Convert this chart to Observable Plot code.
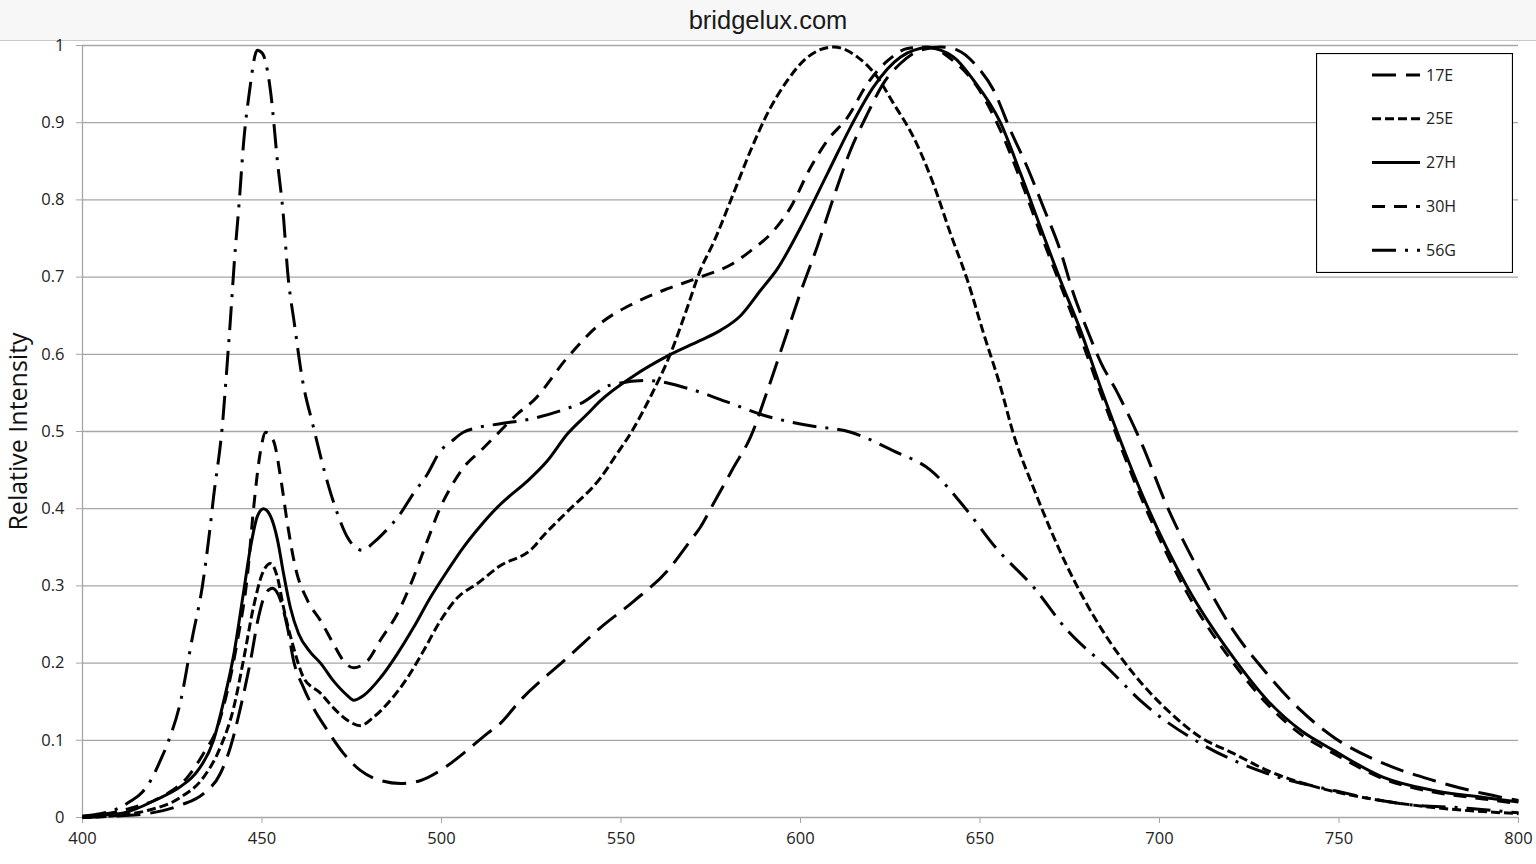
<!DOCTYPE html>
<html>
<head>
<meta charset="utf-8">
<script src="https://cdn.jsdelivr.net/npm/d3@7"></script>
<script src="https://cdn.jsdelivr.net/npm/@observablehq/plot@0.6"></script>
<style>
  html, body { margin: 0; padding: 0; background: #fff; width: 1536px; height: 864px; overflow: hidden; }
  #header { height: 40px; background: #f7f7f7; border-bottom: 1px solid #c8c8c8; text-align: center;
            font-family: "Liberation Sans", Arial, sans-serif; font-size: 25.5px; line-height: 40px; color: #1a1a1a; }
  #chart { position: relative; }
  #legend { position: absolute; left: 1316px; top: 53px; }
</style>
</head>
<body>
<div id="header">bridgelux.com</div>
<div id="chart"></div>
<script>
// ---- Data ----
const seriesNames = ["17E", "25E", "27H", "30H", "56G"];
const xTicks = [400, 450, 500, 550, 600, 650, 700, 750, 800];
const yTicks = [0, 0.1, 0.2, 0.3, 0.4, 0.5, 0.6, 0.7, 0.8, 0.9, 1];

const nm17E = [400, 410, 418, 427.3, 433.7, 438.4, 441.2, 444, 446.8, 449, 451, 452.9, 454.6, 457.1, 458.8, 461.6, 464.3, 468.2, 472.7, 477.4, 483, 488.6, 494.2, 499.7, 506.1, 512.8, 516.4, 522, 535.1, 544.3, 553.5, 563, 569.4, 572.1, 575.8, 581.3, 586.1, 590.8, 595.3, 600, 604.7, 609.2, 613.9, 618.7, 623.1, 627.9, 633.4, 639, 643.7, 649.3, 653.8, 658.5, 663.2, 667.7, 672.4, 676, 680, 683.6, 688.3, 694.7, 702.2, 711.4, 720.6, 730, 739.3, 748.5, 762.4, 776.3, 790.3, 800];
const val17E = [0, 0.002, 0.005, 0.016, 0.031, 0.057, 0.091, 0.142, 0.203, 0.259, 0.29, 0.297, 0.288, 0.246, 0.203, 0.168, 0.142, 0.113, 0.083, 0.061, 0.048, 0.044, 0.048, 0.061, 0.083, 0.109, 0.122, 0.152, 0.207, 0.246, 0.28, 0.32, 0.359, 0.376, 0.407, 0.453, 0.493, 0.553, 0.615, 0.68, 0.74, 0.803, 0.864, 0.912, 0.951, 0.977, 0.994, 0.998, 0.994, 0.972, 0.942, 0.89, 0.842, 0.79, 0.734, 0.679, 0.63, 0.59, 0.55, 0.488, 0.402, 0.316, 0.242, 0.186, 0.139, 0.104, 0.07, 0.048, 0.031, 0.022];

const nm25E = [400, 410, 418.1, 427.3, 433.7, 438.4, 442.1, 444.8, 447.6, 450.1, 452.4, 454.3, 456, 458.8, 461.6, 466.3, 469.9, 473.8, 477.4, 481.1, 485.8, 490.5, 495, 499.7, 504.5, 510, 516, 525.6, 528, 535, 544.3, 549, 553, 558.2, 563.8, 568.5, 572.1, 575.8, 581.3, 586.1, 590.8, 596.4, 602, 609.2, 615.9, 621.4, 625.9, 631.5, 637, 641.8, 646.5, 651, 655.7, 659.3, 664.9, 674.4, 683.6, 692.8, 702.2, 711.4, 720.6, 730, 744, 757.9, 776.3, 800];
const val25E = [0, 0.003, 0.009, 0.026, 0.052, 0.091, 0.142, 0.203, 0.272, 0.316, 0.329, 0.311, 0.272, 0.22, 0.181, 0.161, 0.142, 0.126, 0.119, 0.13, 0.152, 0.181, 0.216, 0.255, 0.285, 0.303, 0.325, 0.35, 0.363, 0.396, 0.44, 0.472, 0.5, 0.545, 0.601, 0.661, 0.709, 0.745, 0.808, 0.864, 0.912, 0.955, 0.985, 0.998, 0.985, 0.959, 0.925, 0.881, 0.821, 0.756, 0.696, 0.627, 0.558, 0.497, 0.427, 0.324, 0.246, 0.186, 0.139, 0.104, 0.083, 0.061, 0.039, 0.025, 0.013, 0.005];

const nm27H = [400, 411.4, 420.9, 427.3, 432, 436.5, 439.3, 442.1, 444.8, 446.8, 448.7, 450.4, 452.4, 454.3, 456, 457.9, 460.2, 463.5, 466.3, 469.9, 473.8, 475.5, 478.3, 483, 487.7, 492.2, 496.9, 501.7, 506.1, 510.9, 515.6, 518.4, 524, 529.5, 535.1, 540.7, 544.3, 553.5, 563, 572.1, 577.7, 583.3, 588.9, 593.6, 600, 607.5, 613.9, 620.3, 627.9, 635.4, 642.6, 648.2, 655.7, 661.3, 666.9, 672.4, 678, 683.6, 696.7, 707.8, 720.6, 730, 739.3, 748.5, 762.4, 776.3, 790.3, 800];
const val27H = [0.001, 0.006, 0.024, 0.04, 0.06, 0.1, 0.15, 0.21, 0.29, 0.35, 0.39, 0.4, 0.39, 0.36, 0.316, 0.272, 0.238, 0.214, 0.2, 0.177, 0.158, 0.152, 0.158, 0.181, 0.212, 0.246, 0.285, 0.32, 0.35, 0.378, 0.402, 0.414, 0.436, 0.462, 0.497, 0.523, 0.54, 0.572, 0.598, 0.618, 0.631, 0.65, 0.683, 0.711, 0.764, 0.834, 0.894, 0.946, 0.985, 0.997, 0.985, 0.955, 0.9, 0.834, 0.764, 0.696, 0.631, 0.557, 0.402, 0.298, 0.207, 0.152, 0.113, 0.087, 0.052, 0.035, 0.026, 0.02];

const nm30H = [400, 413.4, 422.6, 429.2, 433.7, 437.6, 440.4, 443.2, 446, 447.6, 449.6, 451, 453.2, 455.2, 457.1, 459.3, 462.7, 466.3, 469.9, 472.7, 475.5, 479.4, 483, 487.7, 492.2, 496.1, 499.7, 502.5, 506.1, 510.9, 515.6, 521.2, 525.6, 535.1, 544.3, 553.5, 563, 572.1, 581.3, 586.1, 592.5, 597.2, 602.8, 607.5, 613.1, 618.7, 624.2, 629.8, 635.4, 642.6, 649.3, 655.7, 661.3, 666.9, 672.4, 678, 683.6, 696.7, 707.8, 720.6, 730, 739.3, 748.5, 762.4, 776.3, 790.3, 800];
const val30H = [0.001, 0.012, 0.028, 0.052, 0.083, 0.117, 0.165, 0.23, 0.316, 0.398, 0.475, 0.499, 0.488, 0.44, 0.38, 0.324, 0.281, 0.255, 0.225, 0.203, 0.194, 0.203, 0.23, 0.264, 0.311, 0.359, 0.402, 0.427, 0.453, 0.475, 0.497, 0.523, 0.54, 0.596, 0.64, 0.666, 0.685, 0.7, 0.718, 0.734, 0.76, 0.79, 0.842, 0.877, 0.907, 0.951, 0.98, 0.996, 0.998, 0.98, 0.946, 0.89, 0.826, 0.756, 0.69, 0.622, 0.55, 0.395, 0.29, 0.2, 0.147, 0.108, 0.083, 0.05, 0.033, 0.024, 0.018];

const nm56G = [400, 405, 410, 413, 416.7, 419, 421.7, 423.7, 427.3, 430.6, 433.4, 435.4, 436.5, 439, 440.1, 441.2, 442.3, 443.7, 444.8, 446.5, 448.7, 450.1, 452.4, 454.3, 456, 457.1, 459.1, 461.3, 464.1, 468.5, 471.3, 473.8, 478, 480.8, 483.8, 488.6, 492.2, 496.1, 499.7, 502.5, 506.1, 510, 516.4, 525.6, 535.1, 538.7, 547, 557.4, 568.5, 579.7, 589.7, 602, 614, 625.9, 636.2, 646, 654.3, 665, 674.4, 685.5, 695.5, 711.4, 730, 748.5, 767, 785.8, 800];
const val56G = [0.002, 0.005, 0.012, 0.02, 0.033, 0.048, 0.074, 0.096, 0.15, 0.233, 0.3, 0.37, 0.415, 0.51, 0.575, 0.645, 0.72, 0.8, 0.87, 0.94, 0.994, 0.99, 0.94, 0.85, 0.777, 0.709, 0.637, 0.566, 0.51, 0.43, 0.39, 0.363, 0.346, 0.355, 0.368, 0.394, 0.42, 0.445, 0.475, 0.486, 0.499, 0.505, 0.51, 0.517, 0.53, 0.536, 0.56, 0.566, 0.556, 0.538, 0.521, 0.508, 0.499, 0.475, 0.45, 0.4, 0.35, 0.298, 0.242, 0.194, 0.148, 0.096, 0.057, 0.035, 0.018, 0.012, 0.006];

// ---- Build tables ----
const nmBySeries = {"17E": nm17E, "25E": nm25E, "27H": nm27H, "30H": nm30H, "56G": nm56G};
const valBySeries = {"17E": val17E, "25E": val25E, "27H": val27H, "30H": val30H, "56G": val56G};
const dashes = {"17E": "24,10", "25E": "9,4", "27H": null, "30H": "13,9", "56G": "24,9,3,9"};
const tables = {};
for (const s of seriesNames) tables[s] = nmBySeries[s].map((x, i) => ({nm: x, v: valBySeries[s][i]}));

const lineMarks = seriesNames.map(s => Plot.line(tables[s], {
  x: "nm", y: "v", stroke: "#000", strokeWidth: 3, curve: "monotone-x",
  strokeDasharray: dashes[s] || undefined, strokeLinecap: "butt"
}));

const fmt = d => String(+d.toFixed(1));

const chart = Plot.plot({
  width: 1536, height: 823,
  marginTop: 4, marginBottom: 47, marginLeft: 82, marginRight: 18,
  x: {domain: [400, 800]},
  y: {domain: [0, 1]},
  style: {fontFamily: "'Open Sans', sans-serif", fontSize: "16.5px", color: "#222", background: "#fff", overflow: "visible"},
  marks: [
    Plot.gridY(yTicks, {stroke: "#a6a6a6", strokeOpacity: 1, strokeWidth: 1.3}),
    Plot.ruleX([400], {stroke: "#a6a6a6", strokeWidth: 1.3}),
    Plot.axisY(yTicks, {tickSize: 6, tickPadding: 12, stroke: "#a6a6a6", label: null, fill: "#222", fontSize: 16.5, tickFormat: fmt}),
    Plot.axisX(xTicks, {tickSize: 6, tickPadding: 9, stroke: "#a6a6a6", label: null, fill: "#222", fontSize: 16.5, tickFormat: d => String(d)}),
    Plot.text(["Relative Intensity"], {frameAnchor: "left", dx: -64, rotate: -90, textAnchor: "middle", fontSize: 25, fill: "#111"}),
    ...lineMarks
  ]
});
document.getElementById("chart").appendChild(chart);

// ---- Legend ----
const lw = 197, lh = 220;
const leg = d3.select("body").append("svg").attr("id", "legend")
  .attr("width", lw).attr("height", lh);
leg.append("rect").attr("x", 0.5).attr("y", 0.5).attr("width", lw - 1).attr("height", lh - 1)
  .attr("fill", "#fff").attr("stroke", "#000").attr("stroke-width", 1.2);
seriesNames.forEach((s, i) => {
  const y = 22 + i * 43.8;
  leg.append("line").attr("x1", 56).attr("x2", 104).attr("y1", y).attr("y2", y)
    .attr("stroke", "#000").attr("stroke-width", 3)
    .attr("stroke-dasharray", dashes[s] || null);
  leg.append("text").attr("x", 110).attr("y", y).attr("dy", "0.35em")
    .attr("font-family", "'Open Sans', sans-serif").attr("font-size", 16).attr("fill", "#222").text(s);
});
</script>
</body>
</html>
